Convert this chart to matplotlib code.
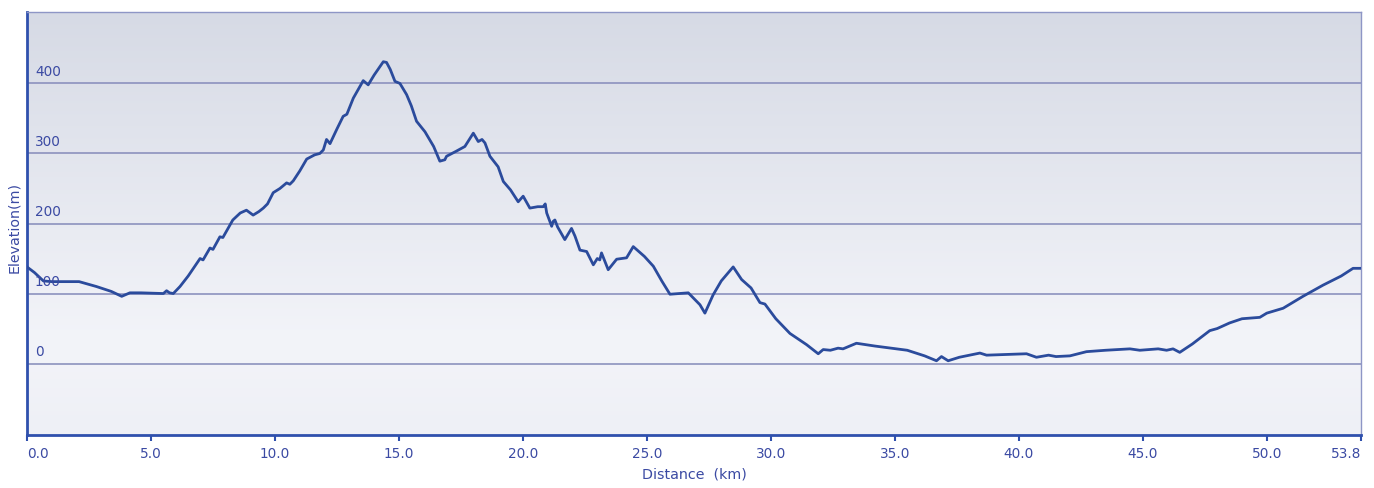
import numpy as np
import matplotlib
matplotlib.use("Agg")
import matplotlib.pyplot as plt

dist_km = [0.0, 0.3, 0.66, 1.0, 2.1, 2.8, 3.4, 3.82, 4.15, 4.6, 5.5, 5.63, 5.75, 5.9,
           6.17, 6.5, 6.98, 7.1, 7.38, 7.5, 7.78, 7.9, 8.3, 8.6, 8.85, 9.12, 9.35, 9.53,
           9.7, 9.93, 10.2, 10.47, 10.6, 10.74, 11.0, 11.28, 11.6, 11.81, 11.95, 12.08,
           12.22, 12.5, 12.75, 12.9, 13.16, 13.56, 13.76, 14.0, 14.37, 14.5, 14.65, 14.84,
           15.04, 15.31, 15.5, 15.71, 16.05, 16.4, 16.65, 16.85, 16.92, 17.3, 17.66, 18.0,
           18.2, 18.35, 18.47, 18.67, 19.0, 19.21, 19.5, 19.81, 20.01, 20.28, 20.6, 20.82,
           20.9, 20.96, 21.16, 21.22, 21.29, 21.4, 21.69, 21.96, 22.1, 22.3, 22.57, 22.84,
           23.0, 23.1, 23.17, 23.44, 23.78, 24.18, 24.45, 24.9, 25.26, 25.6, 25.93, 26.67,
           27.14, 27.34, 27.67, 28.0, 28.48, 28.82, 29.2, 29.56, 29.76, 30.2, 30.77, 31.44,
           31.91, 32.11, 32.4, 32.71, 32.91, 33.45, 34.2, 35.07, 35.5, 36.2, 36.68, 36.88,
           37.15, 37.6, 38.43, 38.7, 39.5, 40.31, 40.71, 41.2, 41.5, 42.06, 42.73, 43.5,
           44.48, 44.88, 45.62, 45.96, 46.22, 46.49, 47.0, 47.7, 48.0, 48.5, 49.0, 49.72,
           50.0, 50.66, 51.46, 52.27, 53.0, 53.48, 53.8]
elev_m = [138, 130, 118, 117, 117, 110, 103, 96, 101, 101, 100, 104, 101, 100,
          110, 125, 150, 148, 165, 163, 181, 180, 205, 215, 219, 212, 217, 222,
          228, 244, 250, 258, 256, 261, 275, 292, 298, 300, 305, 320,
          314, 335, 353, 356, 379, 404, 398, 412, 431, 430, 420, 403,
          400, 384, 368, 346, 331, 310, 289, 291, 296, 303, 310, 329,
          317, 320, 315, 296, 281, 260, 248, 231, 239, 222, 224, 224,
          228, 215, 196, 203, 205, 195, 177, 193, 182, 162, 160, 141,
          150, 148, 158, 134, 149, 151, 167, 153, 139, 118, 99, 101,
          84, 72, 98, 118, 138, 120, 108, 87, 85, 64, 43, 27,
          14, 20, 19, 22, 21, 29, 25, 21, 19, 11, 4, 10,
          4, 9, 15, 12, 13, 14, 9, 12, 10, 11, 17, 19,
          21, 19, 21, 19, 21, 16, 28, 47, 50, 58, 64, 66,
          72, 79, 96, 112, 125, 136, 136]

x_ticks = [0.0, 5.0, 10.0, 15.0, 20.0, 25.0, 30.0, 35.0, 40.0, 45.0, 50.0, 53.8]
x_tick_labels = ["0.0", "5.0", "10.0", "15.0", "20.0", "25.0", "30.0", "35.0",
                 "40.0", "45.0", "50.0", "53.8"]
y_ticks = [0, 100, 200, 300, 400]
y_tick_labels = ["0", "100", "200", "300", "400"]

TXT = "#3b4aa3"
LINE = "#2b4b9c"
GRID = "#8c92be"
SPINE = "#2f50ad"

fig = plt.figure(figsize=(13.74, 4.88), dpi=100)
fig.patch.set_facecolor("white")
ax = fig.add_axes([27/1374, 1-435/488, (1361-27)/1374, (435-12)/488])

xmin, xmax = 0.0, 53.8
ymin, ymax = -102, 502
ax.set_xlim(xmin, xmax)
ax.set_ylim(ymin, ymax)

# vertical gradient background
top = np.array([214, 218, 229]) / 255
mid = np.array([243, 244, 249]) / 255
bot = np.array([238, 240, 246]) / 255
n = 256
t = np.linspace(0, 1, n)[:, None]
grad = np.where(t < 0.78, top + (mid - top) * (t / 0.78), mid + (bot - mid) * ((t - 0.78) / 0.22))
img = grad[:, None, :]
ax.imshow(img, extent=[xmin, xmax, ymin, ymax], origin="upper", aspect="auto", zorder=0)

for yv in y_ticks:
    ax.axhline(yv, color=GRID, lw=1.2, zorder=1)

ax.plot(dist_km, elev_m, color=LINE, lw=2.0, zorder=3, solid_joinstyle="round")

# y labels inside the axes
ax.set_yticks([])
for yv, lab in zip(y_ticks, y_tick_labels):
    ax.text(0.32, yv + 6, lab, color=TXT, fontsize=9.8, ha="left", va="bottom", zorder=4)

ax.set_xticks(x_ticks)
ax.set_xticklabels(x_tick_labels)
ax.tick_params(axis="x", direction="out", length=4, width=1.5, color=SPINE,
               labelcolor=TXT, labelsize=9.8, pad=5)
lbls = ax.get_xticklabels()
lbls[0].set_horizontalalignment("left")
lbls[-1].set_horizontalalignment("right")

for s in ["left", "bottom"]:
    ax.spines[s].set_color(SPINE)
    ax.spines[s].set_linewidth(2.0)
for s in ["top", "right"]:
    ax.spines[s].set_color("#8e96c6")
    ax.spines[s].set_linewidth(1.0)

ax.set_xlabel("Distance  (km)", color=TXT, fontsize=10.3, labelpad=4)
fig.text(14/1374, 1-227/488, "Elevation(m)", rotation=90, color=TXT, fontsize=10.3,
         ha="center", va="center")

fig.savefig("out.png", dpi=100)
